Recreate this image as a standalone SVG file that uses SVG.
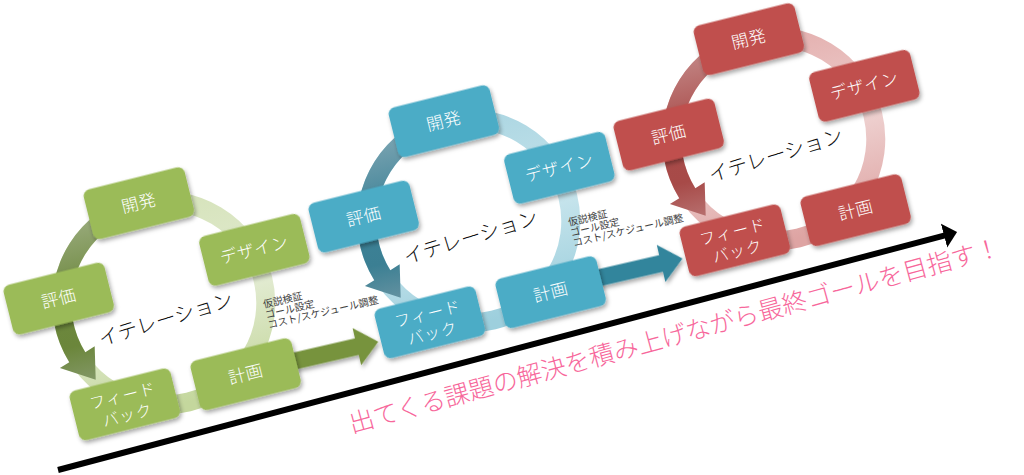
<svg xmlns="http://www.w3.org/2000/svg" width="1024" height="475" viewBox="0 0 1024 475">
<style>
.lbl{fill:#fff;font-family:"Noto Sans CJK JP","Noto Sans",sans-serif;font-size:17px;font-weight:300;text-anchor:middle;letter-spacing:0.5px}
.lbl2{fill:#fff;font-family:"Noto Sans CJK JP","Noto Sans",sans-serif;font-size:16px;font-weight:300;text-anchor:middle;letter-spacing:1px}
.iter{fill:#111;font-family:"Noto Sans CJK JP","Noto Sans",sans-serif;font-size:20px;font-weight:300;text-anchor:middle}
.note{fill:#404040;font-family:"Noto Sans CJK JP","Noto Sans",sans-serif;font-size:10px}
.msg{fill:#f7679b;font-family:"Noto Sans CJK JP","Noto Sans",sans-serif;font-size:25px;font-weight:300}
.bg{fill:#9bbb59}.bb{fill:#4bacc6}.br{fill:#c0504d}
</style>
<defs>
<filter id="sh" x="-25%" y="-25%" width="150%" height="170%">
<feDropShadow dx="1" dy="3" stdDeviation="2.2" flood-color="#000" flood-opacity="0.35"/>
</filter>
<linearGradient id="ringG" x1="0" y1="0" x2="0" y2="1"><stop offset="0" stop-color="#d6e3bb"/><stop offset="0.5" stop-color="#e2ebd1"/><stop offset="1" stop-color="#c4d79d"/></linearGradient>
<linearGradient id="ringB" x1="0" y1="0" x2="0" y2="1"><stop offset="0" stop-color="#acd6e2"/><stop offset="0.5" stop-color="#c6e4ec"/><stop offset="1" stop-color="#9dcfdd"/></linearGradient>
<linearGradient id="ringR" x1="0" y1="0" x2="0" y2="1"><stop offset="0" stop-color="#e4b0af"/><stop offset="0.5" stop-color="#eed0cf"/><stop offset="1" stop-color="#dea4a3"/></linearGradient>
<linearGradient id="arrG" gradientUnits="userSpaceOnUse" x1="0" y1="-110" x2="0" y2="60"><stop offset="0" stop-color="#9cad80"/><stop offset="0.45" stop-color="#6d883e"/><stop offset="0.75" stop-color="#6b863b"/><stop offset="1" stop-color="#869a6c"/></linearGradient>
<linearGradient id="arrB" gradientUnits="userSpaceOnUse" x1="0" y1="-110" x2="0" y2="60"><stop offset="0" stop-color="#7fa6b3"/><stop offset="0.45" stop-color="#3d8297"/><stop offset="0.75" stop-color="#3b7f93"/><stop offset="1" stop-color="#6994a2"/></linearGradient>
<linearGradient id="arrR" gradientUnits="userSpaceOnUse" x1="0" y1="-110" x2="0" y2="60"><stop offset="0" stop-color="#c48a89"/><stop offset="0.45" stop-color="#a94b49"/><stop offset="0.75" stop-color="#a74a48"/><stop offset="1" stop-color="#b97473"/></linearGradient>
<marker id="ah" markerUnits="userSpaceOnUse" viewBox="0 -13 15 26" markerWidth="15" markerHeight="26" refX="1" refY="0" orient="auto">
<path d="M0,-12.4 L13.5,0 L0,12.4 Z" fill="#000"/>
</marker>
<path id="darc" d="M-41.8,-106.4 A111.5,111.5 0 0 0 -106,31.5 L-116.5,34.9 L-84.6,55 L-77.5,22.2 L-88,25.6 A92.5,92.5 0 0 1 -34.7,-88.8 Z"/>
</defs>

<g id="connectors">
<line x1="58" y1="470" x2="945" y2="235.3" stroke="#000" stroke-width="6" marker-end="url(#ah)"/>
<polygon transform="translate(378.3,341.7) rotate(-13)" points="0,0 -22,-19 -22,-8.5 -95,-8.5 -95,8.5 -22,8.5 -22,19" fill="#77933c" filter="url(#sh)"/>
<polygon transform="translate(682.5,258.5) rotate(-13)" points="0,0 -22,-19 -22,-8.5 -95,-8.5 -95,8.5 -22,8.5 -22,19" fill="#31859c" filter="url(#sh)"/>
</g>

<g id="cycle-1" transform="translate(164.5,306) rotate(-14)">
<circle cx="0" cy="-3" r="102" fill="none" stroke="url(#ringG)" stroke-width="19"/>
<use href="#darc" fill="url(#arrG)"/>
<g id="c1-kaihatsu" transform="translate(0,-106)"><rect class="bg" x="-52" y="-25.5" width="104" height="51" rx="7" filter="url(#sh)"/><text class="lbl" y="6">開発</text></g>
<g id="c1-design" transform="translate(100.8,-32.8)"><rect class="bg" x="-52" y="-25.5" width="104" height="51" rx="7" filter="url(#sh)"/><text class="lbl" y="6">デザイン</text></g>
<g id="c1-keikaku" transform="translate(62.3,85.8)"><rect class="bg" x="-52" y="-25.5" width="104" height="51" rx="7" filter="url(#sh)"/><text class="lbl" y="6">計画</text></g>
<g id="c1-feedback" transform="translate(-62.3,85.8)"><rect class="bg" x="-52" y="-25.5" width="104" height="51" rx="7" filter="url(#sh)"/><text class="lbl2" y="-3">フィード</text><text class="lbl2" y="17">バック</text></g>
<g id="c1-hyouka" transform="translate(-100.8,-32.8)"><rect class="bg" x="-52" y="-25.5" width="104" height="51" rx="7" filter="url(#sh)"/><text class="lbl" y="6">評価</text></g>
<text class="iter" x="-2" y="20" transform="rotate(-3,-2,13)">イテレーション</text>
</g>

<g id="cycle-2" transform="translate(469.5,224) rotate(-14)">
<circle cx="0" cy="-3" r="102" fill="none" stroke="url(#ringB)" stroke-width="19"/>
<use href="#darc" fill="url(#arrB)"/>
<g id="c2-kaihatsu" transform="translate(0,-106)"><rect class="bb" x="-52" y="-25.5" width="104" height="51" rx="7" filter="url(#sh)"/><text class="lbl" y="6">開発</text></g>
<g id="c2-design" transform="translate(100.8,-32.8)"><rect class="bb" x="-52" y="-25.5" width="104" height="51" rx="7" filter="url(#sh)"/><text class="lbl" y="6">デザイン</text></g>
<g id="c2-keikaku" transform="translate(62.3,85.8)"><rect class="bb" x="-52" y="-25.5" width="104" height="51" rx="7" filter="url(#sh)"/><text class="lbl" y="6">計画</text></g>
<g id="c2-feedback" transform="translate(-62.3,85.8)"><rect class="bb" x="-52" y="-25.5" width="104" height="51" rx="7" filter="url(#sh)"/><text class="lbl2" y="-3">フィード</text><text class="lbl2" y="17">バック</text></g>
<g id="c2-hyouka" transform="translate(-100.8,-32.8)"><rect class="bb" x="-52" y="-25.5" width="104" height="51" rx="7" filter="url(#sh)"/><text class="lbl" y="6">評価</text></g>
<text class="iter" x="-2" y="20" transform="rotate(-3,-2,13)">イテレーション</text>
</g>

<g id="cycle-3" transform="translate(774.5,142) rotate(-14)">
<circle cx="0" cy="-3" r="102" fill="none" stroke="url(#ringR)" stroke-width="19"/>
<use href="#darc" fill="url(#arrR)"/>
<g id="c3-kaihatsu" transform="translate(0,-106)"><rect class="br" x="-52" y="-25.5" width="104" height="51" rx="7" filter="url(#sh)"/><text class="lbl" y="6">開発</text></g>
<g id="c3-design" transform="translate(100.8,-32.8)"><rect class="br" x="-52" y="-25.5" width="104" height="51" rx="7" filter="url(#sh)"/><text class="lbl" y="6">デザイン</text></g>
<g id="c3-keikaku" transform="translate(62.3,85.8)"><rect class="br" x="-52" y="-25.5" width="104" height="51" rx="7" filter="url(#sh)"/><text class="lbl" y="6">計画</text></g>
<g id="c3-feedback" transform="translate(-62.3,85.8)"><rect class="br" x="-52" y="-25.5" width="104" height="51" rx="7" filter="url(#sh)"/><text class="lbl2" y="-3">フィード</text><text class="lbl2" y="17">バック</text></g>
<g id="c3-hyouka" transform="translate(-100.8,-32.8)"><rect class="br" x="-52" y="-25.5" width="104" height="51" rx="7" filter="url(#sh)"/><text class="lbl" y="6">評価</text></g>
<text class="iter" x="-2" y="20" transform="rotate(-3,-2,13)">イテレーション</text>
</g>

<g id="note-1" transform="translate(264,308) rotate(-13)">
<text class="note" x="0" y="0">仮説検証</text>
<text class="note" x="0" y="10.5">ゴール設定</text>
<text class="note" x="0" y="21">コスト/スケジュール調整</text>
</g>
<g id="note-2" transform="translate(569,226) rotate(-13)">
<text class="note" x="0" y="0">仮説検証</text>
<text class="note" x="0" y="10.5">ゴール設定</text>
<text class="note" x="0" y="21">コスト/スケジュール調整</text>
</g>

<g id="message" transform="rotate(-15.3,352,433)">
<text class="msg" x="352" y="433">出てくる課題の解決を積み上げながら最終ゴールを目指す！</text>
</g>
</svg>
